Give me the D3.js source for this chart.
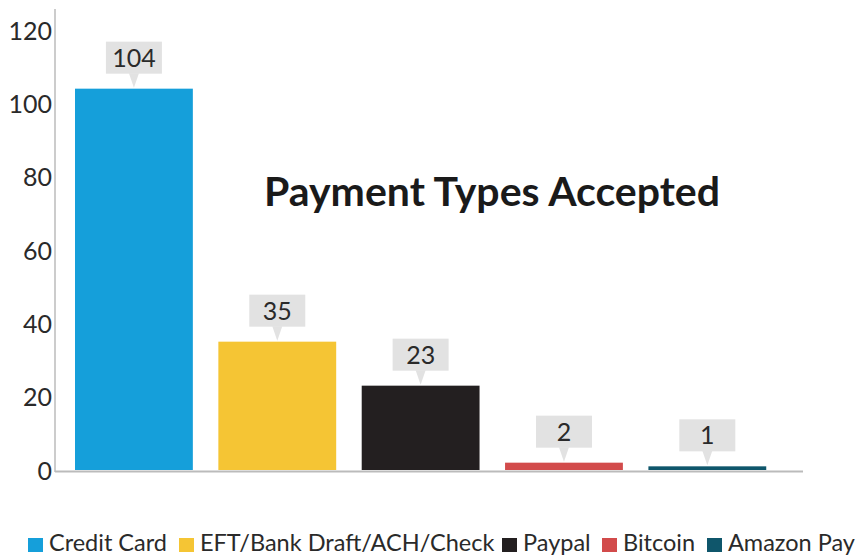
<!DOCTYPE html>
<html><head><meta charset="utf-8">
<script src="https://cdn.jsdelivr.net/npm/d3@7"></script>
<style>
html,body{margin:0;padding:0;background:#fff;}
svg{display:block;font-family:Lato,"Open Sans",sans-serif;}
</style></head>
<body>
<svg id="chart" width="856" height="557"></svg>
<script>
const categories = ["Credit Card","EFT/Bank Draft/ACH/Check","Paypal","Bitcoin","Amazon Pay"];
const values = [104,35,23,2,1];
const colors = ["#159fda","#f5c534","#231f20","#d24b4b","#0f566b"];
const yTicks = [0,20,40,60,80,100,120];
const title = "Payment Types Accepted";

const svg = d3.select("#chart");
const y = d3.scaleLinear().domain([0,120]).range([470,30]);
const x = d3.scaleBand().domain(categories).range([62.25,779]).paddingInner(0.178).paddingOuter(0.089);

// y axis
const yAxis = d3.axisLeft(y).tickValues(yTicks).tickSize(0).tickPadding(3);
const gy = svg.append("g").attr("transform","translate(55,0)").call(yAxis);
gy.select(".domain").remove();
gy.selectAll("text").attr("font-size",25).attr("fill","#2a2a2a").attr("font-family","Lato,sans-serif").attr("dy","0.36em");
svg.append("line").attr("x1",55).attr("x2",55).attr("y1",9).attr("y2",472).attr("stroke","#bbb").attr("stroke-width",1.5);

// bars
svg.selectAll("rect.bar").data(values).enter().append("rect")
  .attr("class","bar")
  .attr("x",(d,i)=>x(categories[i]))
  .attr("width",x.bandwidth())
  .attr("y",d=>y(d))
  .attr("height",d=>y(0)-y(d))
  .attr("fill",(d,i)=>colors[i]);

// x axis line
svg.append("line").attr("x1",55).attr("x2",803).attr("y1",471.5).attr("y2",471.5).attr("stroke","#bbb").attr("stroke-width",2);

// value callouts
const lab = svg.selectAll("g.lab").data(values).enter().append("g").attr("class","lab")
  .attr("transform",(d,i)=>`translate(${x(categories[i])+x.bandwidth()/2},${y(d)})`);
lab.append("rect").attr("x",-28).attr("width",56).attr("y",-47).attr("height",32).attr("fill","#e2e2e2");
lab.append("path").attr("d","M-5,-15.5 L5,-15.5 L0,-1 Z").attr("fill","#e2e2e2");
lab.append("text").attr("y",-22).attr("text-anchor","middle").attr("font-size",25).attr("fill","#2a2a2a").text(d=>d);

// title
svg.append("text").attr("x",492).attr("y",206).attr("text-anchor","middle")
  .attr("font-size",41).attr("font-weight",700).attr("fill","#1a1a1a").text(title);

// legend
const legX = [28,179,502,602,707];
const leg = svg.selectAll("g.leg").data(categories).enter().append("g").attr("class","leg")
  .attr("transform",(d,i)=>`translate(${legX[i]},537)`);
leg.append("rect").attr("y",1).attr("width",15).attr("height",14).attr("fill",(d,i)=>colors[i]);
leg.append("text").attr("x",21).attr("y",14).attr("font-size",23.5).attr("fill","#2a2a2a").text(d=>d);
</script>
</body></html>
